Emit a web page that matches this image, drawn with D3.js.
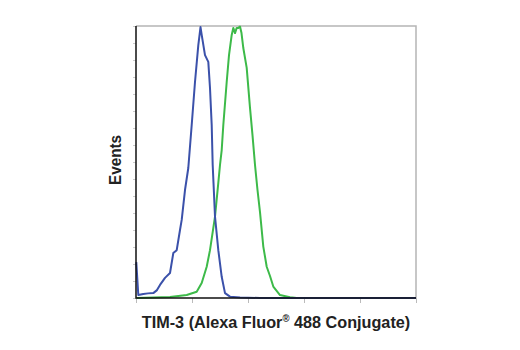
<!DOCTYPE html>
<html>
<head>
<meta charset="utf-8">
<script src="https://cdn.jsdelivr.net/npm/d3@7"></script>
<style>
  body { margin: 0; background: #fff; }
  text { font-family: "Liberation Sans", Arial, sans-serif; font-weight: bold; fill: #222; }
</style>
</head>
<body>
<div id="chart"></div>
<script>
// fluorescence intensity (log axis) and events (% of max)
var blueX = [1.012, 1.099, 1.35, 1.638, 2.037, 2.371, 2.683, 3.296, 4.047, 4.636, 5.332, 6.105, 6.549, 7.499, 8.589, 9.877, 11.31, 12.96, 14.19, 14.9, 17.07, 19.55, 20.96, 22.48, 23.42, 24.21, 25.75, 29.49, 33.92, 38.85, 47.72, 71.97, 163.8, 100000];
var blueY = [13.2, 1.1, 1.5, 1.7, 1.8, 2.9, 4.8, 7.4, 9.2, 16.5, 17.6, 25.0, 28.7, 39.7, 47.8, 63.6, 79.4, 93.0, 99.6, 96.7, 89.3, 86.8, 77.2, 63.6, 48.9, 42.3, 29.9, 17.6, 7.8, 1.8, 0.5, 0.2, 0, 0];
var greenX = [1.021, 4.047, 8.045, 12.13, 14.9, 18.3, 20.96, 25.75, 29.49, 31.62, 33.92, 36.23, 41.65, 45.79, 51.17, 54.64, 58.61, 62.84, 67.11, 71.97, 76.54, 82.46, 94.8, 108.6, 120.3, 133.4, 147.8, 163.8, 187.6, 215.8, 247.1, 283.1, 372.8, 562.3, 740.5, 100000];
var greenY = [0, 0.4, 1.1, 2.3, 5.5, 11.5, 17.6, 29.9, 42.3, 48.9, 54.4, 63.6, 79.4, 89.3, 96.7, 99.3, 97.4, 99.3, 99.3, 99.8, 97.4, 91.9, 84.6, 69.9, 59.9, 48.9, 39.7, 31.6, 18.9, 11.5, 8.1, 4.2, 1.1, 0.3, 0, 0];

var xLabel = "TIM-3 (Alexa Fluor";
var xLabelEnd = " 488 Conjugate)";
var yLabel = "Events";

var svg = d3.select("#chart")
            .append("svg")
            .attr("width", 520)
            .attr("height", 350);

var x = d3.scaleLog().domain([1, 100000]).range([136, 416]);
var y = d3.scaleLinear().domain([0, 100]).range([298, 26]);

// frame: top and right grey
svg.append("path")
    .attr("d", "M136,26H416V298")
    .style("fill", "none")
    .style("stroke", "#b5b5b5")
    .style("stroke-width", 1.5);

// x ticks (log minor ticks)
var xAxis = d3.axisBottom(x)
    .ticks(5)
    .tickSize(3)
    .tickFormat("");
var gx = svg.append("g")
    .attr("transform", "translate(0,298)")
    .call(xAxis);
gx.select(".domain").remove();
gx.selectAll(".tick line")
    .style("stroke", "#bbb")
    .attr("y2", function(d) {
        return Math.abs(Math.log10(d) - Math.round(Math.log10(d))) < 1e-6 ? 5 : 3;
    });

// y ticks
var yAxis = d3.axisLeft(y)
    .tickValues(d3.range(0, 101, 100 / 16))
    .tickSize(3)
    .tickFormat("");
var gy = svg.append("g")
    .attr("transform", "translate(136,0)")
    .call(yAxis);
gy.select(".domain").remove();
gy.selectAll(".tick line").style("stroke", "#ccc");

var line = d3.line()
    .x(function(d) { return x(d[0]); })
    .y(function(d) { return y(d[1]); });

svg.append("path")
    .datum(d3.zip(greenX, greenY))
    .attr("d", line)
    .style("fill", "none")
    .style("stroke", "#3dba49")
    .style("stroke-width", 2)
    .style("stroke-linejoin", "round");

svg.append("path")
    .datum(d3.zip(blueX, blueY))
    .attr("d", line)
    .style("fill", "none")
    .style("stroke", "#3b51aa")
    .style("stroke-width", 2)
    .style("stroke-linejoin", "round");

// left and bottom black axes
svg.append("path")
    .attr("d", "M136,26V298H416")
    .style("fill", "none")
    .style("stroke", "#111")
    .style("stroke-width", 1.5);

var xt = svg.append("text")
    .attr("transform", "translate(276,328) scale(0.955,1)")
    .attr("text-anchor", "middle")
    .style("font-size", "17px");
xt.append("tspan").text(xLabel);
xt.append("tspan").text("\u00AE").style("font-size", "10px").attr("dy", -6);
xt.append("tspan").text(xLabelEnd).attr("dy", 6);

svg.append("text")
    .attr("transform", "translate(121,160) rotate(-90) scale(0.9,1)")
    .attr("text-anchor", "middle")
    .style("font-size", "17px")
    .text(yLabel);
</script>
</body>
</html>
